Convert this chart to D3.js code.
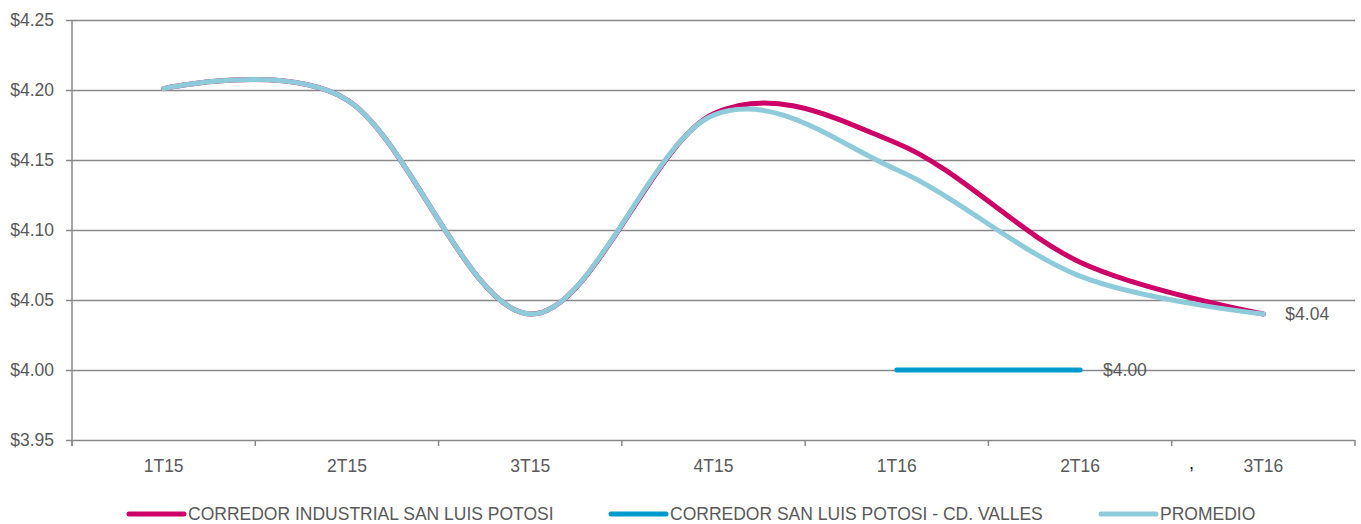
<!DOCTYPE html>
<html>
<head>
<meta charset="utf-8">
<script src="https://cdn.jsdelivr.net/npm/d3@7"></script>
<style>
  html, body { margin: 0; padding: 0; background: #fff; }
  svg text { font-family: "Liberation Sans", Arial, sans-serif; fill: #595959; }
</style>
</head>
<body>
<svg id="chart" width="1361" height="524"></svg>
<script>
// Quarterly price per m² ($USD)
const categories = ["1T15", "2T15", "3T15", "4T15", "1T16", "2T16", "3T16"];
const seriesNames = ["CORREDOR INDUSTRIAL SAN LUIS POTOSI", "CORREDOR SAN LUIS POTOSI - CD. VALLES", "PROMEDIO"];
const corredorIndustrial = [4.201, 4.193, 4.04, 4.183, 4.162, 4.077, 4.04];
const corredorValles = [null, null, null, null, 4.00, 4.00, null];
const promedio = [4.201, 4.193, 4.04, 4.182, 4.143, 4.067, 4.04];
const yTicks = [3.95, 4.00, 4.05, 4.10, 4.15, 4.20, 4.25];
const seriesColors = ["#CC0066", "#0099CC", "#8ECBDA"];

const svg = d3.select("#chart");
const plotLeft = 72, plotRight = 1355, plotTop = 20, plotBottom = 440;
const fontSize = "17.5px";

const x = d3.scaleBand().domain(categories).range([plotLeft, plotRight]);
const y = d3.scaleLinear().domain([3.95, 4.25]).range([plotBottom, plotTop]);
const cx = c => x(c) + x.bandwidth() / 2;
const fmt = v => "$" + d3.format(".2f")(v);

// Horizontal gridlines with tick labels
const yAxis = svg.append("g")
  .attr("transform", `translate(${plotLeft - 6},0)`)
  .call(d3.axisLeft(y).tickValues(yTicks).tickFormat(fmt)
    .tickSizeInner(-(plotRight - plotLeft + 6)).tickSizeOuter(0).tickPadding(12));
yAxis.select(".domain").remove();
yAxis.selectAll(".tick line").attr("stroke", "#888").attr("stroke-width", 1.5);
yAxis.selectAll(".tick text").style("font-size", fontSize).attr("fill", "#595959");

// Vertical value axis
svg.append("line")
  .attr("x1", plotLeft).attr("x2", plotLeft).attr("y1", plotTop).attr("y2", plotBottom + 6)
  .attr("stroke", "#888").attr("stroke-width", 1.5);

// Category axis: labels centred, ticks on band boundaries
const xAxis = svg.append("g")
  .attr("transform", `translate(0,${plotBottom})`)
  .call(d3.axisBottom(x).tickSize(0).tickPadding(20));
xAxis.select(".domain").remove();
xAxis.selectAll(".tick text").style("font-size", fontSize).attr("fill", "#595959");

const boundaries = categories.map(c => x(c)).concat([x(categories[categories.length - 1]) + x.bandwidth()]);
svg.append("g").selectAll("line").data(boundaries).join("line")
  .attr("x1", d => d).attr("x2", d => d)
  .attr("y1", plotBottom).attr("y2", plotBottom + 6)
  .attr("stroke", "#888").attr("stroke-width", 1.5);

svg.append("text").attr("x", 1189).attr("y", 469)
  .style("font-size", "18px").style("fill", "#111").text(",");

// Series lines (smoothed)
const line = d3.line()
  .defined(d => d.v != null)
  .x(d => cx(d.c))
  .y(d => y(d.v))
  .curve(d3.curveCardinal.tension(0));

const series = [corredorIndustrial, corredorValles, promedio];
const drawOrder = [1, 0, 2];
drawOrder.forEach(i => {
  const pts = categories.map((c, j) => ({ c, v: series[i][j] }));
  svg.append("path")
    .attr("d", line(pts))
    .attr("fill", "none")
    .attr("stroke", seriesColors[i])
    .attr("stroke-width", 5)
    .attr("stroke-linecap", "round")
    .attr("stroke-linejoin", "round");
});

// Value labels at series ends
svg.append("text")
  .attr("x", cx("3T16") + 22).attr("y", y(promedio[6]))
  .attr("dy", "0.35em").style("font-size", fontSize)
  .text(fmt(promedio[6]));
svg.append("text")
  .attr("x", cx("2T16") + 23).attr("y", y(corredorValles[5]))
  .attr("dy", "0.35em").style("font-size", fontSize)
  .text(fmt(corredorValles[5]));

// Legend
const legendX = [129, 611, 1101];
const legend = svg.append("g");
seriesNames.forEach((name, i) => {
  legend.append("line")
    .attr("x1", legendX[i]).attr("x2", legendX[i] + 55)
    .attr("y1", 514).attr("y2", 514)
    .attr("stroke", seriesColors[i]).attr("stroke-width", 5)
    .attr("stroke-linecap", "round");
  legend.append("text")
    .attr("x", legendX[i] + 59).attr("y", 514)
    .attr("dy", "0.35em").style("font-size", fontSize)
    .text(name);
});
</script>
</body>
</html>
